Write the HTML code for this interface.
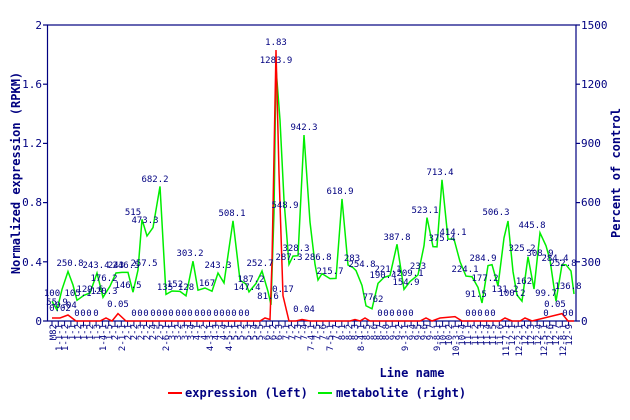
<!DOCTYPE html>
<html><head><meta charset="utf-8"><style>
html,body{margin:0;padding:0;background:#fff;}
svg{display:block;font-family:"DejaVu Sans Mono","Liberation Mono",monospace;}
</style></head><body>
<svg width="630" height="420" viewBox="0 0 630 420" xmlns="http://www.w3.org/2000/svg">
<rect x="0" y="0" width="630" height="420" fill="#fff"/>
<g stroke="#000080" stroke-width="1.2" fill="none">
<rect x="47.5" y="25" width="528.5" height="296"/>
<line x1="43" y1="25" x2="47.5" y2="25"/><line x1="43" y1="84.2" x2="47.5" y2="84.2"/><line x1="43" y1="143.4" x2="47.5" y2="143.4"/><line x1="43" y1="202.6" x2="47.5" y2="202.6"/><line x1="43" y1="261.8" x2="47.5" y2="261.8"/><line x1="43" y1="321" x2="47.5" y2="321"/>
<line x1="576" y1="25" x2="580" y2="25"/><line x1="576" y1="84.2" x2="580" y2="84.2"/><line x1="576" y1="143.4" x2="580" y2="143.4"/><line x1="576" y1="202.6" x2="580" y2="202.6"/><line x1="576" y1="261.8" x2="580" y2="261.8"/><line x1="576" y1="321" x2="580" y2="321"/>
</g>
<g fill="#000080" font-size="11" text-anchor="end">
<text x="42" y="29">2</text><text x="42" y="88">1.6</text><text x="42" y="147">1.2</text><text x="42" y="206">0.8</text><text x="42" y="266">0.4</text><text x="42" y="325">0</text>
</g>
<g fill="#000080" font-size="11">
<text x="581" y="29">1500</text><text x="581" y="88">1200</text><text x="581" y="147">900</text><text x="581" y="206">600</text><text x="581" y="266">300</text><text x="581" y="325">0</text>
</g>
<g fill="#000080" font-size="12" font-weight="bold">
<text transform="translate(20,173) rotate(-90)" text-anchor="middle">Normalized expression (RPKM)</text>
<text transform="translate(620,173) rotate(-90)" text-anchor="middle">Percent of control</text>
<text x="412" y="377" text-anchor="middle">Line name</text>
<text x="185" y="397">expression (left)</text>
<text x="336" y="397">metabolite (right)</text>
</g>
<line x1="168" y1="393" x2="182" y2="393" stroke="#ff0000" stroke-width="2"/>
<line x1="318" y1="393" x2="332" y2="393" stroke="#00ee00" stroke-width="2"/>
<g stroke="#000080" stroke-width="1">
<path d="M52,321v5M58.3,321v5M64.6,321v5M70.9,321v5M77.2,321v5M83.5,321v5M89.8,321v5M96.1,321v5M102.4,321v5M108.7,321v5M115,321v5M121.3,321v5M127.6,321v5M133.9,321v5M140.2,321v5M146.5,321v5M152.8,321v5M159.1,321v5M165.4,321v5M171.7,321v5M178,321v5M184.3,321v5M190.6,321v5M196.9,321v5M203.2,321v5M209.5,321v5M215.8,321v5M222.1,321v5M228.4,321v5M234.7,321v5M241,321v5M247.3,321v5M253.6,321v5M259.9,321v5M266.2,321v5M272.5,321v5M278.8,321v5M285.1,321v5M291.4,321v5M297.7,321v5M304,321v5M310.3,321v5M316.6,321v5M322.9,321v5M329.2,321v5M335.5,321v5M341.8,321v5M348.1,321v5M354.4,321v5M360.7,321v5M367,321v5M373.3,321v5M379.6,321v5M385.9,321v5M392.2,321v5M398.5,321v5M404.8,321v5M411.1,321v5M417.4,321v5M423.7,321v5M430,321v5M436.3,321v5M442.6,321v5M448.9,321v5M455.2,321v5M461.5,321v5M467.8,321v5M474.1,321v5M480.4,321v5M486.7,321v5M493,321v5M499.3,321v5M505.6,321v5M511.9,321v5M518.2,321v5M524.5,321v5M530.8,321v5M537.1,321v5M543.4,321v5M549.7,321v5M556,321v5M562.3,321v5M568.6,321v5"/>
</g>
<g fill="#000080" font-size="9" text-anchor="end">
<text transform="translate(56,324) rotate(-90)">M82</text>
<text transform="translate(62,324) rotate(-90)">1-1-1</text>
<text transform="translate(68,324) rotate(-90)">1-1-2</text>
<text transform="translate(75,324) rotate(-90)">1-1</text>
<text transform="translate(81,324) rotate(-90)">1-2</text>
<text transform="translate(87,324) rotate(-90)">1-3</text>
<text transform="translate(93,324) rotate(-90)">1-2</text>
<text transform="translate(100,324) rotate(-90)">1-3</text>
<text transform="translate(106,324) rotate(-90)">1-4-1</text>
<text transform="translate(112,324) rotate(-90)">1-5</text>
<text transform="translate(118,324) rotate(-90)">2-1</text>
<text transform="translate(125,324) rotate(-90)">2-1-1</text>
<text transform="translate(131,324) rotate(-90)">2-1</text>
<text transform="translate(137,324) rotate(-90)">2-2</text>
<text transform="translate(144,324) rotate(-90)">2-3</text>
<text transform="translate(150,324) rotate(-90)">2-2</text>
<text transform="translate(156,324) rotate(-90)">2-4</text>
<text transform="translate(163,324) rotate(-90)">2-5</text>
<text transform="translate(169,324) rotate(-90)">2-6-1</text>
<text transform="translate(175,324) rotate(-90)">3-1</text>
<text transform="translate(181,324) rotate(-90)">3-2</text>
<text transform="translate(188,324) rotate(-90)">3-3</text>
<text transform="translate(194,324) rotate(-90)">3-4</text>
<text transform="translate(200,324) rotate(-90)">4-1</text>
<text transform="translate(207,324) rotate(-90)">4-2</text>
<text transform="translate(213,324) rotate(-90)">4-3-1</text>
<text transform="translate(219,324) rotate(-90)">4-3</text>
<text transform="translate(226,324) rotate(-90)">4-4</text>
<text transform="translate(232,324) rotate(-90)">4-5-1</text>
<text transform="translate(238,324) rotate(-90)">5-1</text>
<text transform="translate(244,324) rotate(-90)">5-2</text>
<text transform="translate(251,324) rotate(-90)">5-3</text>
<text transform="translate(257,324) rotate(-90)">5-4</text>
<text transform="translate(263,324) rotate(-90)">5-5</text>
<text transform="translate(270,324) rotate(-90)">6-1</text>
<text transform="translate(276,324) rotate(-90)">6-2</text>
<text transform="translate(282,324) rotate(-90)">6-3</text>
<text transform="translate(289,324) rotate(-90)">7-1</text>
<text transform="translate(295,324) rotate(-90)">7-2</text>
<text transform="translate(301,324) rotate(-90)">7-3</text>
<text transform="translate(307,324) rotate(-90)">7-4</text>
<text transform="translate(314,324) rotate(-90)">7-4-1</text>
<text transform="translate(320,324) rotate(-90)">7-5</text>
<text transform="translate(326,324) rotate(-90)">7-6</text>
<text transform="translate(333,324) rotate(-90)">7-5-1</text>
<text transform="translate(339,324) rotate(-90)">7-7</text>
<text transform="translate(345,324) rotate(-90)">8-1</text>
<text transform="translate(352,324) rotate(-90)">8-2</text>
<text transform="translate(358,324) rotate(-90)">8-3</text>
<text transform="translate(364,324) rotate(-90)">8-4-1</text>
<text transform="translate(370,324) rotate(-90)">8-5</text>
<text transform="translate(377,324) rotate(-90)">8-6</text>
<text transform="translate(383,324) rotate(-90)">8-7</text>
<text transform="translate(389,324) rotate(-90)">8-8</text>
<text transform="translate(396,324) rotate(-90)">9-1</text>
<text transform="translate(402,324) rotate(-90)">9-2</text>
<text transform="translate(408,324) rotate(-90)">9-3-1</text>
<text transform="translate(415,324) rotate(-90)">9-4</text>
<text transform="translate(421,324) rotate(-90)">9-5</text>
<text transform="translate(427,324) rotate(-90)">9-6</text>
<text transform="translate(433,324) rotate(-90)">9-7</text>
<text transform="translate(440,324) rotate(-90)">9-8-1</text>
<text transform="translate(446,324) rotate(-90)">10-1</text>
<text transform="translate(452,324) rotate(-90)">10-2</text>
<text transform="translate(459,324) rotate(-90)">10-3-1</text>
<text transform="translate(465,324) rotate(-90)">10-4</text>
<text transform="translate(471,324) rotate(-90)">11-1</text>
<text transform="translate(478,324) rotate(-90)">11-2</text>
<text transform="translate(484,324) rotate(-90)">11-3</text>
<text transform="translate(490,324) rotate(-90)">11-4</text>
<text transform="translate(496,324) rotate(-90)">11-5</text>
<text transform="translate(503,324) rotate(-90)">11-6</text>
<text transform="translate(509,324) rotate(-90)">11-7-1</text>
<text transform="translate(515,324) rotate(-90)">12-1</text>
<text transform="translate(522,324) rotate(-90)">12-2-1</text>
<text transform="translate(528,324) rotate(-90)">12-2</text>
<text transform="translate(534,324) rotate(-90)">12-3</text>
<text transform="translate(541,324) rotate(-90)">12-4</text>
<text transform="translate(547,324) rotate(-90)">12-5-1</text>
<text transform="translate(553,324) rotate(-90)">12-6</text>
<text transform="translate(559,324) rotate(-90)">12-7</text>
<text transform="translate(566,324) rotate(-90)">12-8-1</text>
<text transform="translate(572,324) rotate(-90)">12-9</text>
</g>
<polyline fill="none" stroke="#00ee00" stroke-width="1.5" points="52,301.3 57,310 62,289.4 68,271.5 73,285 77,300.3 84,295.3 90,293 97,273 103,297.3 110,286.2 116,273 122,272.4 128,272.4 133,292.2 138,270 142,219.4 147,236 153,227.6 160,186.4 166,294.4 172,291 180,291.4 186,295.8 193,261.2 198,290.2 205,288 212,291.2 218,273 224,282.9 233,220.8 240,280.2 246,284 249,291.9 256,283.5 262,271 268,291.4 271,304.8 274,212.7 276,67.5 280,120 284,200 289,264.3 293,256.1 298,255.7 304,135 310,222 315,264.3 318,280 322,273.6 330,278.6 336,278.4 342,198.9 348,265 353,267.6 356,270.6 362,285.5 366,305.8 372,308.8 378,283.4 384,277.4 390,275.5 397,244.3 404,289.4 410,281.5 418,274.9 424,245.8 427,217.6 433,246.6 437,246.8 442,179.8 448,239.1 454,239.1 460,261.6 466,276.1 472,276.7 478,287.4 482,303 488,265.6 492,264.7 498,286 504,237.9 508,221 513,271.5 517,295 522,301.2 528,256.7 534,289 540,232.8 546,245.8 550,259.9 556,301.3 562,264.6 566,264.8 571,271 574,294"/>
<polyline fill="none" stroke="#ff0000" stroke-width="1.5" points="52,318 60,318 68,315 76,321 100,321 106,318 112,321 118,313.6 126,321 260,321 265,318 270,319.5 272,261.8 276,50 279,173 283,295.8 289,321 296,321 302,319.5 310,321 350,321 355,319.5 360,321 365,318 370,321 420,321 426,318 432,321 440,318 455,316.6 462,321 500,321 505,318 512,321 520,321 525,318 532,321 562,313.6 568,321 574,321"/>
<g fill="#000080" font-size="9" text-anchor="middle">
<text x="276" y="45">1.83</text><text x="276" y="63">1283.9</text>
<text x="52" y="296">100</text><text x="57" y="305">55.9</text><text x="70" y="266">250.8</text><text x="78" y="296">105.1</text>
<text x="90" y="292">129.6</text><text x="96" y="268">243.4</text><text x="104" y="294">120.3</text><text x="104" y="281">176.2</text>
<text x="116" y="268">243</text><text x="126" y="268">246.5</text><text x="128" y="288">146.5</text><text x="144" y="266">257.5</text>
<text x="133" y="215">515</text><text x="145" y="223">473.3</text><text x="155" y="182">682.2</text><text x="165" y="290">135</text>
<text x="175" y="287">152</text><text x="186" y="290">128</text><text x="190" y="256">303.2</text><text x="207" y="286">167</text>
<text x="218" y="268">243.3</text><text x="232" y="216">508.1</text><text x="251" y="282">187.2</text>
<text x="247" y="290">147.4</text><text x="260" y="266">252.7</text><text x="268" y="299">81.6</text><text x="285" y="208">548.9</text>
<text x="296" y="251">328.3</text><text x="289" y="260">287.3</text><text x="304" y="130">942.3</text><text x="318" y="260">286.8</text>
<text x="330" y="274">215.7</text><text x="340" y="194">618.9</text><text x="352" y="261">283</text><text x="362" y="267">254.8</text>
<text x="368" y="300">77</text><text x="378" y="302">62</text><text x="383" y="278">190.4</text><text x="388" y="272">221.1</text>
<text x="397" y="240">387.8</text><text x="406" y="285">154.9</text><text x="410" y="276">209.1</text><text x="418" y="269">233</text>
<text x="425" y="213">523.1</text><text x="442" y="241">375.4</text><text x="440" y="175">713.4</text><text x="453" y="235">414.1</text>
<text x="465" y="272">224.1</text><text x="476" y="297">91.5</text><text x="483" y="261">284.9</text><text x="485" y="281">177.2</text>
<text x="496" y="215">506.3</text><text x="505" y="292">131.2</text><text x="512" y="296">100.2</text><text x="522" y="251">325.2</text>
<text x="524" y="284">162</text><text x="532" y="228">445.8</text><text x="540" y="256">308.9</text><text x="546" y="296">99.7</text>
<text x="555" y="261">284.4</text><text x="563" y="266">252.8</text><text x="568" y="289">136.8</text>
<text x="60" y="311">0.02</text><text x="66" y="308">0.04</text><text x="118" y="307">0.05</text><text x="283" y="292">0.17</text>
<text x="304" y="312">0.04</text><text x="555" y="307">0.05</text>
</g>
<g fill="#000080" font-size="9" text-anchor="middle">
<text x="77" y="316">0</text><text x="83" y="316">0</text><text x="89" y="316">0</text><text x="96" y="316">0</text>
<text x="134" y="316">0</text><text x="140" y="316">0</text><text x="146" y="316">0</text><text x="153" y="316">0</text><text x="159" y="316">0</text><text x="165" y="316">0</text><text x="171" y="316">0</text><text x="178" y="316">0</text><text x="184" y="316">0</text><text x="190" y="316">0</text><text x="197" y="316">0</text><text x="203" y="316">0</text><text x="209" y="316">0</text><text x="216" y="316">0</text><text x="222" y="316">0</text><text x="228" y="316">0</text><text x="234" y="316">0</text><text x="241" y="316">0</text><text x="247" y="316">0</text>
<text x="380" y="316">0</text><text x="386" y="316">0</text><text x="392" y="316">0</text><text x="399" y="316">0</text><text x="405" y="316">0</text><text x="411" y="316">0</text>
<text x="468" y="316">0</text><text x="474" y="316">0</text><text x="480" y="316">0</text><text x="487" y="316">0</text><text x="493" y="316">0</text><text x="546" y="316">0</text><text x="565" y="316">0</text><text x="571" y="316">0</text>
</g>
</svg>
</body></html>
